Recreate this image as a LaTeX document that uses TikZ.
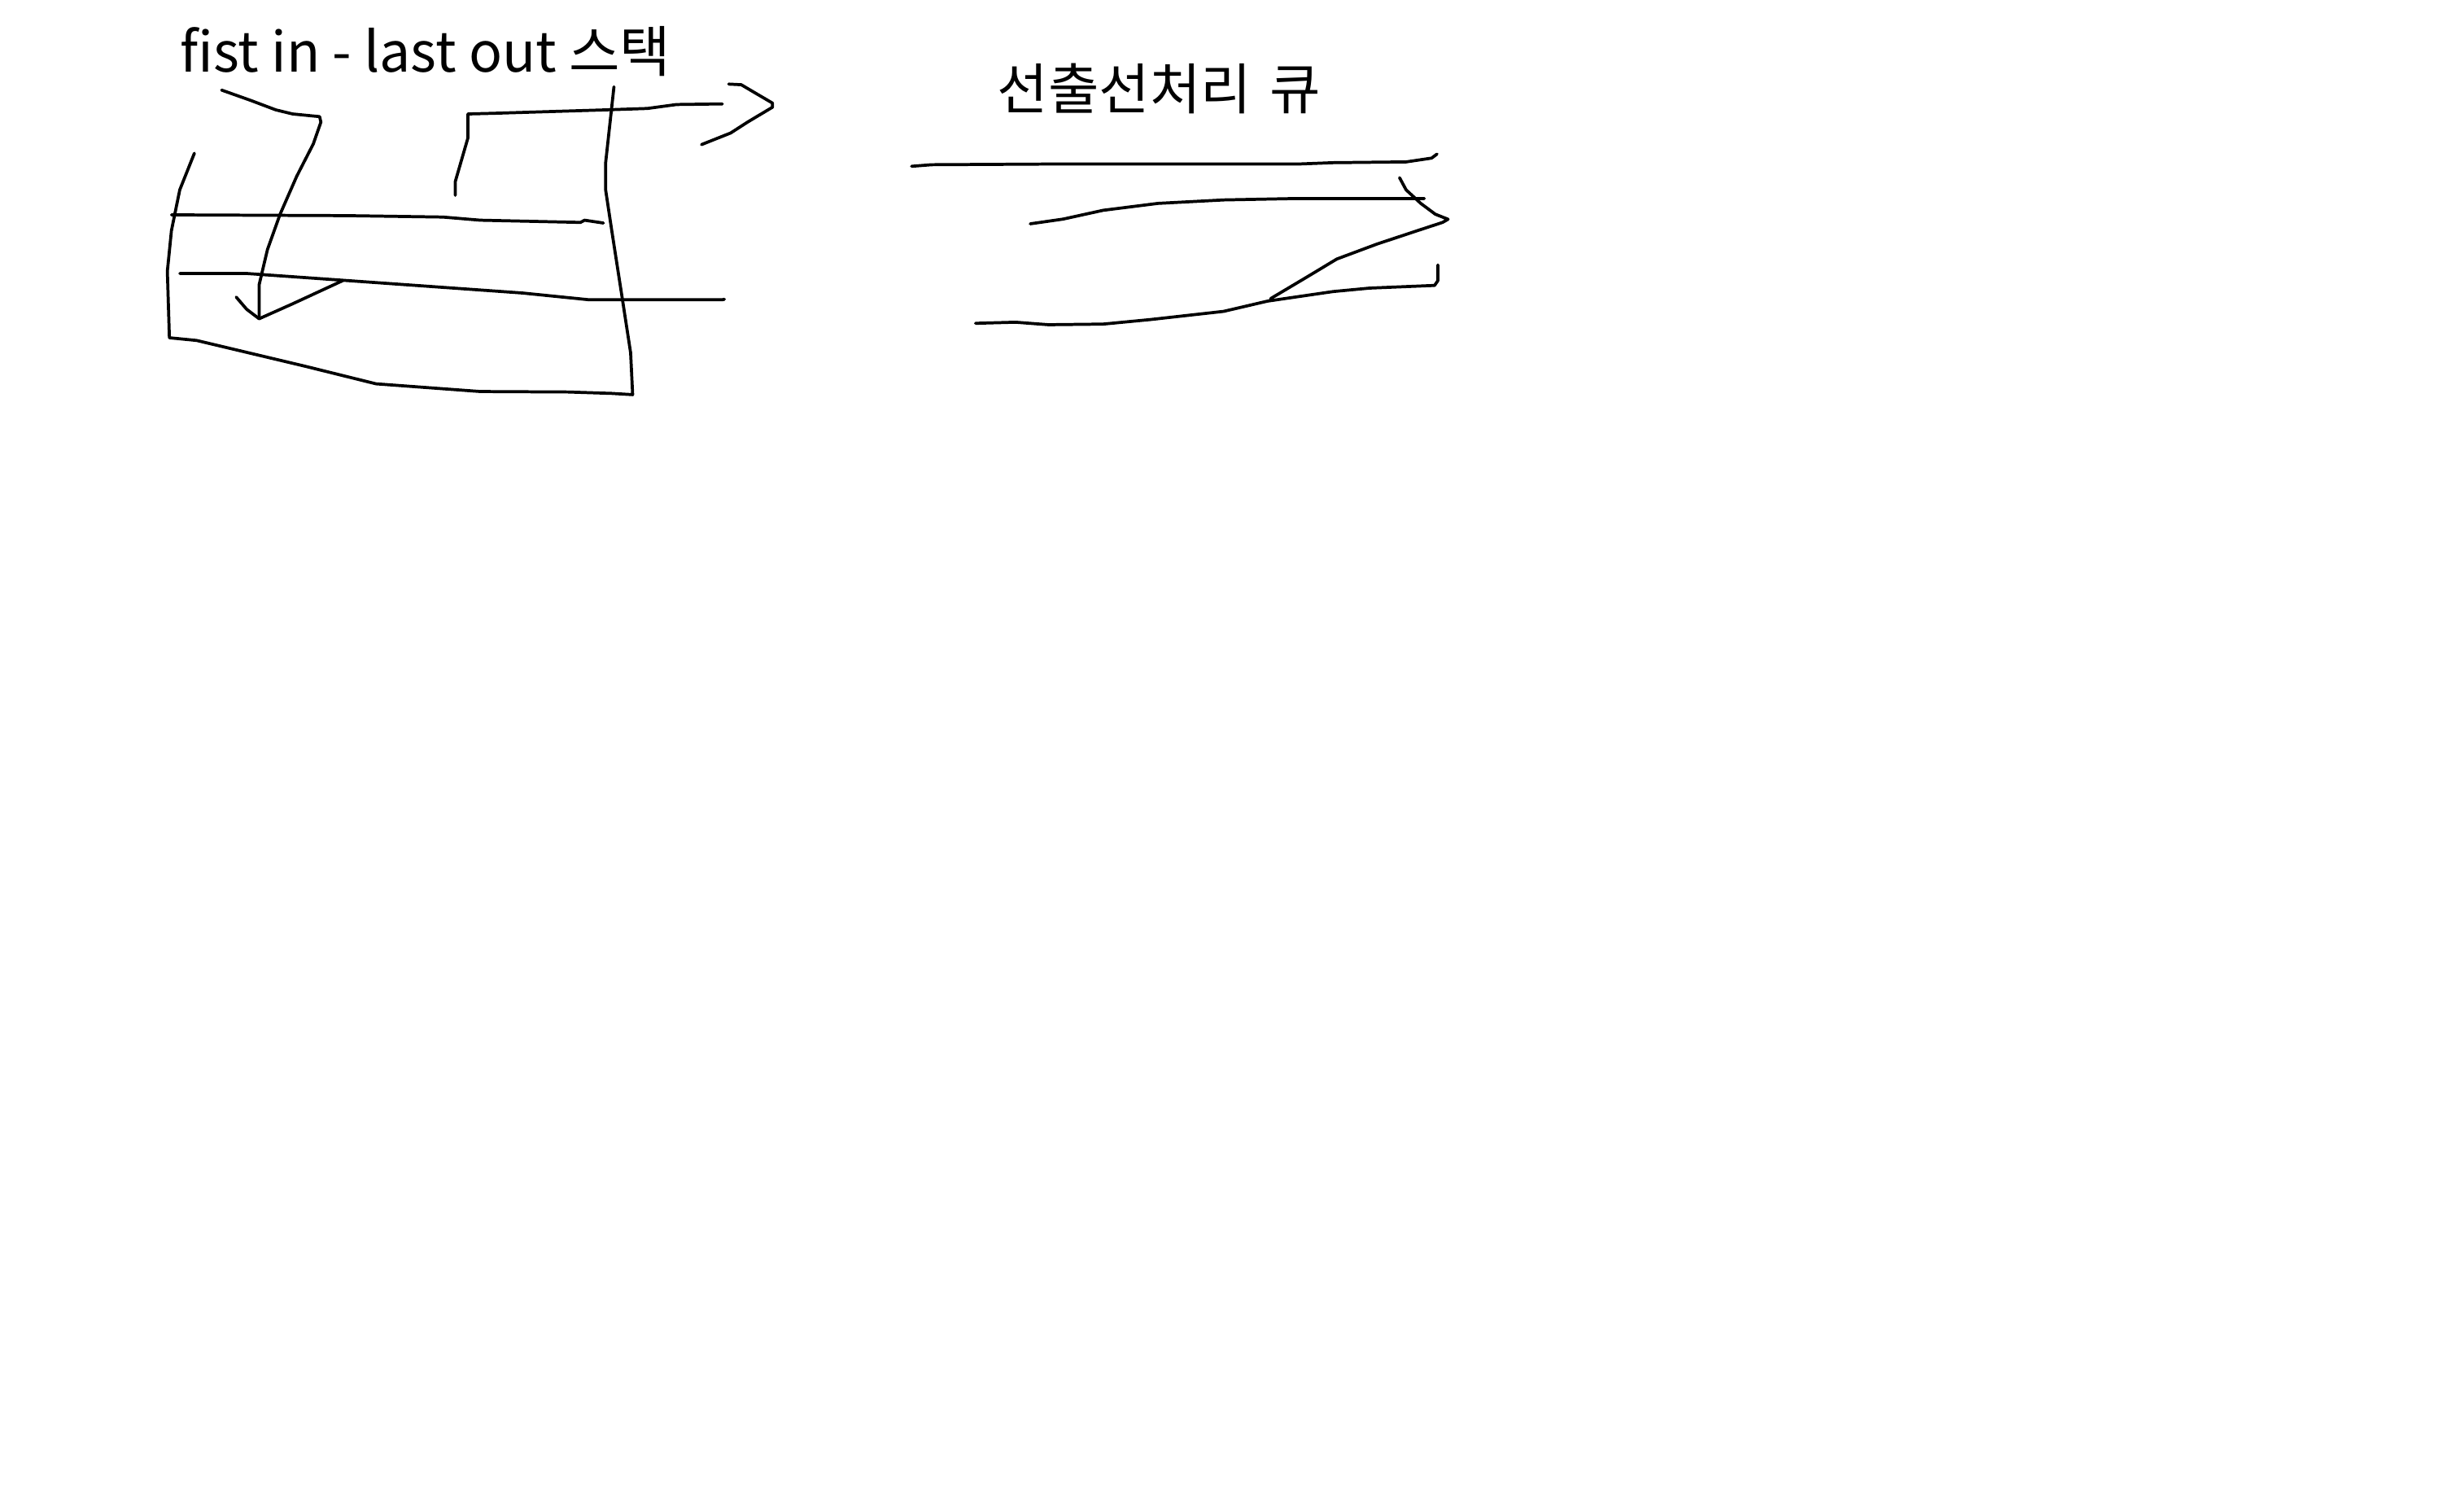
\documentclass[tikz,border=0pt]{standalone}
\usepackage{fontspec}
\setmainfont{Noto Sans CJK KR}
\begin{document}
\begin{tikzpicture}[x=0.01cm, y=-0.01cm, line join=round, line cap=round,
    pen/.style={draw=black, line width=0.55pt},
    heading/.style={inner sep=0pt, anchor=base west, font=\fontsize{10}{12}\selectfont}]
    \useasboundingbox (0,0) rectangle (1568,954);
    \node[heading] (stacktitle) at (114,45.7) {fist in - last out 스택};
    \node[heading] (queuetitle) at (634,69.5) {선출선처리\hspace{0.1em} 큐};

    \draw[pen] (123.7,97.5) -- (114.4,120.8) -- (109.1,146.7) -- (106.5,172.6) -- (107.8,214.9) -- (125.1,216.6) -- (194.1,233) -- (239.3,244.2) -- (305.7,249.1) -- (361.5,249.4) -- (389.3,250.3) -- (402.6,251.1) -- (401.3,224.4) -- (396,189.9) -- (389.3,146.7) -- (385.4,120.8) -- (385.4,103.6) -- (390.7,55.2);
    \draw[pen] (109.1,136.7) -- (220.7,137.2) -- (281.8,138.1) -- (305.7,140.1) -- (369.4,141.5) -- (372,140.1) -- (384,141.9);
    \draw[pen] (114.4,174) -- (157,174) -- (239.3,179.8) -- (332.2,186.4) -- (374.7,190.7) -- (459.7,190.7) -- (461,190.4);
    \draw[pen] (141,57.3) -- (159.6,63.9) -- (175.5,69.9) -- (186.2,72.5) -- (203.4,74.2) -- (204.2,77.7) -- (199.4,91.5) -- (188.8,112.2) -- (178.2,136.4) -- (170.2,158.8) -- (164.9,181.2) -- (164.9,201.9);
    \draw[pen] (150.3,189) -- (157,196.8) -- (164.9,202.8) -- (186.2,193.3) -- (204.8,184.7) -- (218,178.6);
    \draw[pen] (289.7,124.3) -- (289.7,115.6) -- (297.7,88) -- (297.7,72.5) -- (313.6,72.1) -- (385.4,69.9) -- (412,69) -- (430.5,66.5) -- (459.7,66.1);
    \draw[pen] (463.7,53.5) -- (471.7,53.9) -- (478.3,57.8) -- (491.6,65.6) -- (491.6,68.2) -- (475.7,77.7) -- (465,84.6) -- (446.4,92);

    \draw[pen] (580.1,105.8) -- (592.9,104.8) -- (662.6,104.4) -- (825.1,104.4) -- (848.3,103.5) -- (894.8,103) -- (911,100.6) -- (914.5,98);
    \draw[pen] (655.6,142.4) -- (676.5,139.4) -- (702,133.8) -- (736.9,129.4) -- (778.7,127.2) -- (825.1,126.3) -- (906.4,126.3);
    \draw[pen] (890.6,113) -- (894.8,120.8) -- (904.1,129.4) -- (913.4,136.3) -- (921.5,139.5) -- (918,141.5) -- (899.4,147.6) -- (876.2,155.3) -- (850.7,164.8) -- (832.1,176) -- (808.9,189.8) -- (808.4,190.7);
    \draw[pen] (915,168.6) -- (915,178.6) -- (912.9,181.6) -- (871.6,183.3) -- (848.3,185.5) -- (806.5,191.6) -- (778.7,198.1) -- (732.2,203.3) -- (702,206.2) -- (667.2,206.6) -- (658,205.9) -- (646.3,205) -- (620.8,205.7);
\end{tikzpicture}
\end{document}
